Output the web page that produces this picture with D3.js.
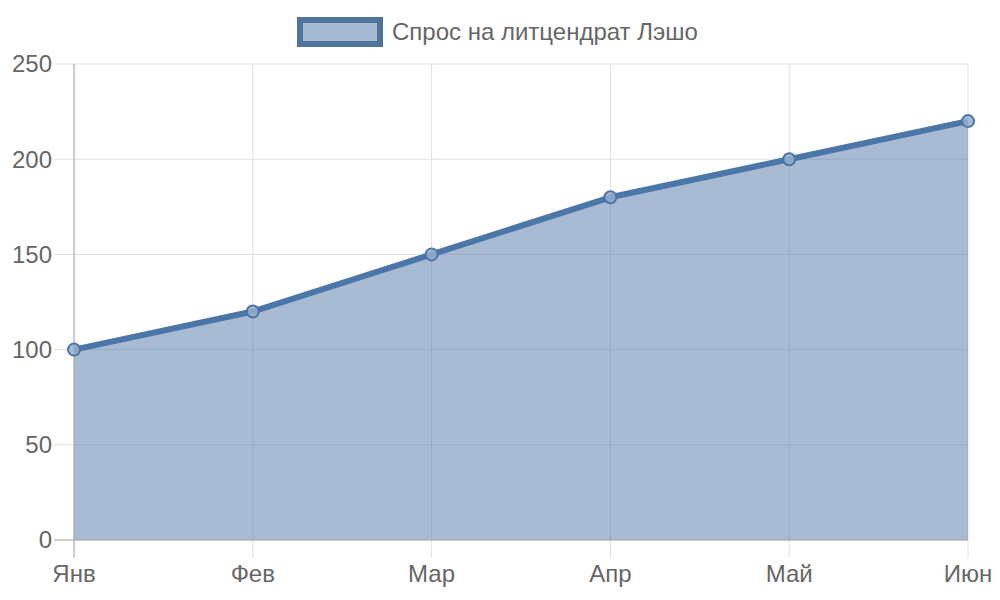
<!DOCTYPE html>
<html>
<head>
<meta charset="utf-8">
<script src="https://cdn.jsdelivr.net/npm/d3@7"></script>
<style>
  body { margin: 0; background: #fff; }
  svg { font-family: "Liberation Sans", Arial, sans-serif; }
</style>
</head>
<body>
<svg id="chart" width="1000" height="600"></svg>
<script>
const months = ["Янв", "Фев", "Мар", "Апр", "Май", "Июн"]
const demand = [100, 120, 150, 180, 200, 220]
const yTicks = [0, 50, 100, 150, 200, 250]
const seriesName = "Спрос на литцендрат Лэшо"

const width = 1000
const height = 600
const margin = {top: 64, right: 32, bottom: 60, left: 74}

const lineColor = "#4a76a8"
const fillColor = "rgba(78,116,164,0.49)"
const gridColor = "#e0e0e0"
const textColor = "#666"

const svg = d3.select("#chart")

const x = d3.scalePoint()
    .domain(months)
    .range([margin.left, width - margin.right])

const y = d3.scaleLinear()
    .domain([0, 250])
    .range([height - margin.bottom, margin.top])

// grid
const grid = svg.append("g")
grid.selectAll("line.h")
  .data(yTicks)
  .join("line")
    .attr("x1", margin.left - 20)
    .attr("x2", width - margin.right)
    .attr("y1", d => y(d))
    .attr("y2", d => y(d))
    .attr("stroke", gridColor)
    .attr("stroke-width", 1)
grid.selectAll("line.v")
  .data(months)
  .join("line")
    .attr("x1", d => x(d))
    .attr("x2", d => x(d))
    .attr("y1", margin.top)
    .attr("y2", height - margin.bottom + 18)
    .attr("stroke", gridColor)
    .attr("stroke-width", 1)

// area + line
const data = months.map((m, i) => ({m, v: demand[i]}))

svg.append("path")
  .datum(data)
  .attr("fill", fillColor)
  .attr("d", d3.area().x(d => x(d.m)).y0(y(0)).y1(d => y(d.v)))

// axes lines
svg.append("line")
  .attr("x1", margin.left).attr("x2", margin.left)
  .attr("y1", margin.top).attr("y2", height - margin.bottom + 18)
  .attr("stroke", "#aaa")
svg.append("line")
  .attr("x1", margin.left - 20).attr("x2", width - margin.right)
  .attr("y1", y(0)).attr("y2", y(0))
  .attr("stroke", "#aaa")

svg.append("path")
  .datum(data)
  .attr("fill", "none")
  .attr("stroke", lineColor)
  .attr("stroke-width", 6)
  .attr("stroke-linejoin", "round")
  .attr("d", d3.line().x(d => x(d.m)).y(d => y(d.v)))

svg.append("g")
  .selectAll("circle")
  .data(data)
  .join("circle")
    .attr("cx", d => x(d.m))
    .attr("cy", d => y(d.v))
    .attr("r", 6)
    .attr("fill", "rgba(150,175,205,0.85)")
    .attr("stroke", lineColor)
    .attr("stroke-width", 2)

// tick labels
svg.append("g")
  .selectAll("text")
  .data(yTicks)
  .join("text")
    .attr("x", margin.left - 22)
    .attr("y", d => y(d))
    .attr("dy", "0.35em")
    .attr("text-anchor", "end")
    .attr("fill", textColor)
    .attr("font-size", 24)
    .text(d => d)

svg.append("g")
  .selectAll("text")
  .data(months)
  .join("text")
    .attr("x", d => x(d))
    .attr("y", height - margin.bottom + 42)
    .attr("text-anchor", "middle")
    .attr("fill", textColor)
    .attr("font-size", 24)
    .text(d => d)

// legend
const legend = svg.append("g")
legend.append("rect")
  .attr("x", 300).attr("y", 20)
  .attr("width", 80).attr("height", 24)
  .attr("fill", "#a8b9d2")
  .attr("stroke", "#50739c")
  .attr("stroke-width", 6)
legend.append("text")
  .attr("x", 392).attr("y", 40)
  .attr("fill", textColor)
  .attr("font-size", 24)
  .text(seriesName)
</script>
</body>
</html>
